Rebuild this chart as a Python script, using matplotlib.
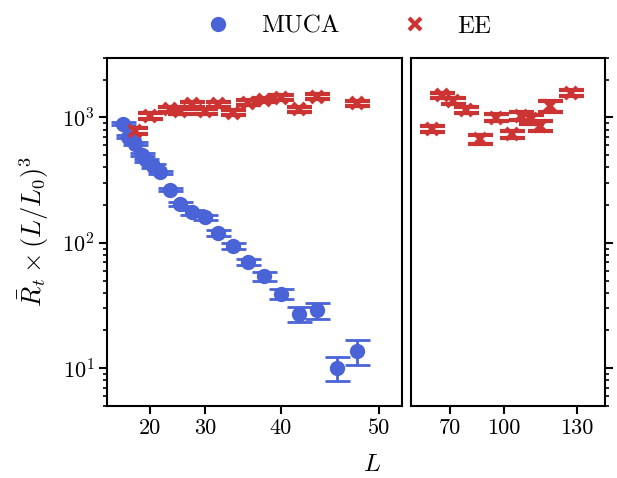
import numpy as np
import matplotlib
matplotlib.use("Agg")
import matplotlib.pyplot as plt
from matplotlib.lines import Line2D

plt.rcParams['font.family'] = 'serif'
plt.rcParams['font.serif'] = ['cmr10']
plt.rcParams['mathtext.fontset'] = 'cm'
plt.rcParams['axes.formatter.use_mathtext'] = True
plt.rcParams['font.size'] = 16

# MUCA data (left panel only)
L_muca = [12, 14, 16, 18, 19, 20.5, 22, 24, 26, 28, 30, 32, 34, 36, 38, 40, 42, 44, 46, 48]
R_muca = [890, 700, 615, 505, 455, 410, 365, 265, 205, 175, 160, 120, 95, 70, 54, 39, 27, 29, 10.1, 13.7]
err_muca = [20, 18, 16, 14, 13, 12, 11, 7, 7, 7, 7, 6, 5, 4, 4, 3.5, 3.6, 4.3, 2.2, 3.0]

# EE data
L_ee = [16, 20, 24, 26, 28, 30, 32, 34, 36, 38, 40, 42, 44, 48,
        56, 64, 72, 80, 88, 96, 104, 108, 112, 116, 120, 128]
R_ee = [777, 1024, 1159, 1123, 1270, 1123, 1270, 1090, 1311, 1376, 1437, 1159, 1466, 1294,
        812, 1500, 1350, 1144, 667, 995, 731, 1024, 963, 852, 1232, 1577]
err_ee = [45, 50, 50, 50, 60, 50, 60, 50, 60, 60, 60, 50, 60, 60,
          45, 70, 70, 60, 50, 60, 45, 70, 80, 80, 130, 90]

blue = '#4a63d6'
red = '#cc3333'

# x axis is drawn on an L^2 scale
fwd = lambda x: np.sign(x) * x**2
inv = lambda x: np.sqrt(np.abs(x))

fig = plt.figure(figsize=(6.17, 4.78), dpi=100)
ax1 = fig.add_axes([0.1734, 0.1506, 0.4781, 0.7291])
ax2 = fig.add_axes([0.6656, 0.1506, 0.3149, 0.7291])

L_ee = np.array(L_ee)
R_ee = np.array(R_ee)
err_ee = np.array(err_ee)
left = L_ee < 52

ebkw = dict(elinewidth=2, capsize=9, capthick=2, linestyle='none')
ax1.errorbar(L_muca, R_muca, yerr=err_muca, fmt='o', color=blue, ms=10, **ebkw)
ax1.errorbar(L_ee[left], R_ee[left], yerr=err_ee[left], fmt='x', color=red, ms=9, mew=3, **ebkw)
ax2.errorbar(L_ee[~left], R_ee[~left], yerr=err_ee[~left], fmt='x', color=red, ms=9, mew=3, **ebkw)

for ax in (ax1, ax2):
    ax.set_xscale('function', functions=(fwd, inv))
    ax.set_yscale('log')
    ax.set_ylim(5, 3000)
    for s in ax.spines.values():
        s.set_linewidth(1.5)
    ax.tick_params(which='major', length=5.5, width=1.5, labelsize=16)
    ax.tick_params(which='minor', length=3, width=1.2)
    ax.xaxis.set_minor_locator(plt.NullLocator())

ax1.set_xlim(0, 52.1)
ax1.set_xticks([20, 30, 40, 50])
ax1.set_xticklabels(['20', '30', '40', '50'])
ax2.set_xlim(34, 140)
ax2.set_xticks([70, 100, 130])
ax2.set_xticklabels(['70', '100', '130'])

ax1.yaxis.set_ticks_position('left')
ax2.yaxis.set_ticks_position('right')
ax2.tick_params(axis='y', which='both', labelright=False, labelleft=False)

ax1.set_ylabel(r'$\bar{R}_t \times (L/L_0)^3$', fontsize=19, labelpad=8)
fig.text(0.603, 0.005, r'$L$', ha='center', va='bottom', fontsize=18)

handles = [Line2D([], [], marker='o', color=blue, ls='none', ms=10),
           Line2D([], [], marker='x', color=red, ls='none', ms=9, mew=3)]
fig.legend(handles, ['MUCA', 'EE'], loc='upper center', bbox_to_anchor=(0.555, 1.015),
           ncol=2, frameon=False, fontsize=18, handlelength=2, handletextpad=0.72,
           columnspacing=2)

fig.savefig('out.png', dpi=100)
